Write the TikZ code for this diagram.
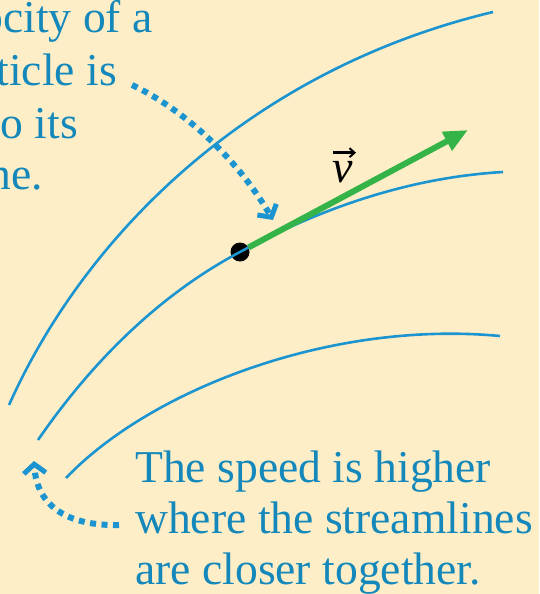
\documentclass[tikz,border=0pt]{standalone}
\usepackage{fontspec}
\setmainfont{Liberation Serif}
\usetikzlibrary{arrows.meta}
\definecolor{bgcream}{RGB}{253,238,200}
\definecolor{txtblue}{RGB}{20,136,186}
\definecolor{lineblue}{RGB}{28,148,208}
\definecolor{vecgreen}{RGB}{52,180,72}
\tikzset{
  stream/.style={draw=lineblue, line width=2.6pt},
  dotarrow/.style={draw=lineblue, line width=6pt, dash pattern=on 6pt off 5.5pt,
    -{Straight Barb[length=9pt,width=22pt,line width=5pt]}},
  txtlabel/.style={text=txtblue, font=\fontsize{45.6}{51}\selectfont, inner sep=0pt},
}
\begin{document}
\begin{tikzpicture}[x=1pt,y=-1pt]
\fill[bgcream] (0,0) rectangle (539,594);
\useasboundingbox (0,0) rectangle (539,594);
\clip (0,0) rectangle (539,594);
% streamlines
\draw[stream] (9,405) .. controls (85,235) and (250,70) .. (493,12);
\coordinate (s2a) at (38,440);
\node[circle, fill=black, minimum size=19pt, inner sep=0pt] (dot) at (240,252) {};
\draw[stream] (s2a) .. controls (100,350) and (170,289) .. (dot.center)
  .. controls (310,214) and (400,178) .. (503,172);
\draw[stream] (66,478) .. controls (150,390) and (330,320) .. (500,336);
% velocity vector
\coordinate (vtip) at (468,130);
\draw[draw=vecgreen, line width=6pt, -{Triangle[length=24pt,width=20pt]}] (dot) -- (vtip);
\node[inner sep=0pt, anchor=base, font=\fontsize{46}{46}\selectfont\itshape] (v) at (343,182) {v};
\draw[line width=2.4pt, -{Straight Barb[length=5pt,width=9pt,line width=2pt]}] ([xshift=-10pt,yshift=8pt]v.north) -- ([xshift=13pt,yshift=8pt]v.north);
% top text fragments
\node[txtlabel, anchor=base east] (t1) at (153,33) {ocity of a};
\node[txtlabel, anchor=base east] (t2) at (117,85) {ticle is};
\node[txtlabel, anchor=base east] (t3) at (78,138) {o its};
\node[txtlabel, anchor=base east] (t4) at (43,189) {ne.};
% bottom text
\node[txtlabel, anchor=base west] (b1) at (135,482) {The speed is higher};
\node[txtlabel, anchor=base west] (b2) at (135,533) {where the streamlines};
\node[txtlabel, anchor=base west] (b3) at (135,584) {are closer together.};
% dotted arrows
\path (t2.base east) ++(15,0) coordinate (d1s);
\coordinate (d1e) at (273,220);
\draw[dotarrow] (d1s) .. controls (175,105) and (232,150) .. (d1e);
\coordinate (d2e) at (34,461);
\coordinate (d2s) at (119,525);
\draw[dotarrow] (d2s) .. controls (70,526) and (37,508) .. (d2e);
\end{tikzpicture}
\end{document}
